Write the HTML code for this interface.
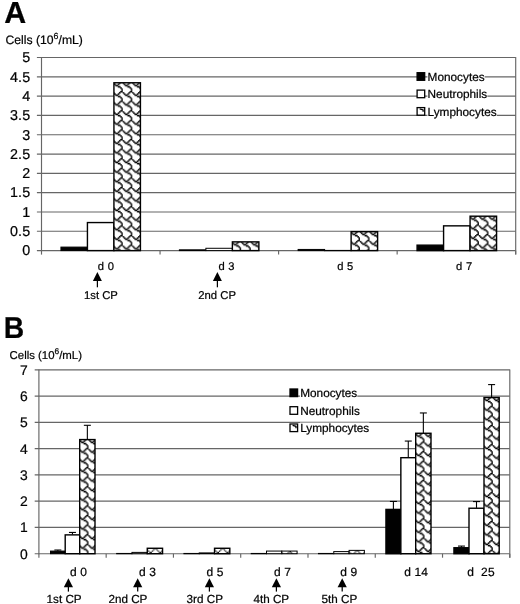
<!DOCTYPE html>
<html><head><meta charset="utf-8"><title>Chart</title>
<style>html,body{margin:0;padding:0;background:#fff;}body{width:520px;height:604px;overflow:hidden;}svg{display:block;}text{font-family:"Liberation Sans",sans-serif;fill:#000;text-rendering:geometricPrecision;stroke:#000;stroke-width:0.22px;}</style>
</head><body>
<svg width="520" height="604" viewBox="0 0 520 604">
<rect width="520" height="604" fill="#fff"/>
<g opacity="0.999">
<defs><pattern id="p0" patternUnits="userSpaceOnUse" x="113.13" y="81.41" width="9.6" height="9.6"><rect width="9.6" height="9.6" fill="#fff"/><rect x="7" y="-0.2" width="1.6" height="1.6" fill="#000"/><rect x="8.2" y="-0.2" width="1.6" height="1.6" fill="#000"/><rect x="-0.2" y="1" width="1.6" height="1.6" fill="#000"/><rect x="5.8" y="1" width="1.6" height="1.6" fill="#000"/><rect x="1" y="2.2" width="1.6" height="1.6" fill="#000"/><rect x="4.6" y="2.2" width="1.6" height="1.6" fill="#000"/><rect x="2.2" y="3.4" width="1.6" height="1.6" fill="#000"/><rect x="3.4" y="3.4" width="1.6" height="1.6" fill="#000"/><rect x="4.6" y="4.6" width="1.6" height="1.6" fill="#000"/><rect x="5.8" y="4.6" width="1.6" height="1.6" fill="#000"/><rect x="7" y="5.8" width="1.6" height="1.6" fill="#000"/><rect x="8.2" y="7" width="1.6" height="1.6" fill="#000"/><rect x="8.2" y="8.2" width="1.6" height="1.6" fill="#000"/></pattern><pattern id="p1" patternUnits="userSpaceOnUse" x="231.57" y="240.52" width="9.6" height="9.6"><rect width="9.6" height="9.6" fill="#fff"/><rect x="7" y="-0.2" width="1.6" height="1.6" fill="#000"/><rect x="8.2" y="-0.2" width="1.6" height="1.6" fill="#000"/><rect x="-0.2" y="1" width="1.6" height="1.6" fill="#000"/><rect x="5.8" y="1" width="1.6" height="1.6" fill="#000"/><rect x="1" y="2.2" width="1.6" height="1.6" fill="#000"/><rect x="4.6" y="2.2" width="1.6" height="1.6" fill="#000"/><rect x="2.2" y="3.4" width="1.6" height="1.6" fill="#000"/><rect x="3.4" y="3.4" width="1.6" height="1.6" fill="#000"/><rect x="4.6" y="4.6" width="1.6" height="1.6" fill="#000"/><rect x="5.8" y="4.6" width="1.6" height="1.6" fill="#000"/><rect x="7" y="5.8" width="1.6" height="1.6" fill="#000"/><rect x="8.2" y="7" width="1.6" height="1.6" fill="#000"/><rect x="8.2" y="8.2" width="1.6" height="1.6" fill="#000"/></pattern><pattern id="p2" patternUnits="userSpaceOnUse" x="350.32" y="230.29" width="9.6" height="9.6"><rect width="9.6" height="9.6" fill="#fff"/><rect x="7" y="-0.2" width="1.6" height="1.6" fill="#000"/><rect x="8.2" y="-0.2" width="1.6" height="1.6" fill="#000"/><rect x="-0.2" y="1" width="1.6" height="1.6" fill="#000"/><rect x="5.8" y="1" width="1.6" height="1.6" fill="#000"/><rect x="1" y="2.2" width="1.6" height="1.6" fill="#000"/><rect x="4.6" y="2.2" width="1.6" height="1.6" fill="#000"/><rect x="2.2" y="3.4" width="1.6" height="1.6" fill="#000"/><rect x="3.4" y="3.4" width="1.6" height="1.6" fill="#000"/><rect x="4.6" y="4.6" width="1.6" height="1.6" fill="#000"/><rect x="5.8" y="4.6" width="1.6" height="1.6" fill="#000"/><rect x="7" y="5.8" width="1.6" height="1.6" fill="#000"/><rect x="8.2" y="7" width="1.6" height="1.6" fill="#000"/><rect x="8.2" y="8.2" width="1.6" height="1.6" fill="#000"/></pattern><pattern id="p3" patternUnits="userSpaceOnUse" x="469.28" y="214.84" width="9.6" height="9.6"><rect width="9.6" height="9.6" fill="#fff"/><rect x="7" y="-0.2" width="1.6" height="1.6" fill="#000"/><rect x="8.2" y="-0.2" width="1.6" height="1.6" fill="#000"/><rect x="-0.2" y="1" width="1.6" height="1.6" fill="#000"/><rect x="5.8" y="1" width="1.6" height="1.6" fill="#000"/><rect x="1" y="2.2" width="1.6" height="1.6" fill="#000"/><rect x="4.6" y="2.2" width="1.6" height="1.6" fill="#000"/><rect x="2.2" y="3.4" width="1.6" height="1.6" fill="#000"/><rect x="3.4" y="3.4" width="1.6" height="1.6" fill="#000"/><rect x="4.6" y="4.6" width="1.6" height="1.6" fill="#000"/><rect x="5.8" y="4.6" width="1.6" height="1.6" fill="#000"/><rect x="7" y="5.8" width="1.6" height="1.6" fill="#000"/><rect x="8.2" y="7" width="1.6" height="1.6" fill="#000"/><rect x="8.2" y="8.2" width="1.6" height="1.6" fill="#000"/></pattern><pattern id="p4" patternUnits="userSpaceOnUse" x="78.9" y="438.22" width="9.6" height="9.6"><rect width="9.6" height="9.6" fill="#fff"/><rect x="7" y="-0.2" width="1.6" height="1.6" fill="#000"/><rect x="8.2" y="-0.2" width="1.6" height="1.6" fill="#000"/><rect x="-0.2" y="1" width="1.6" height="1.6" fill="#000"/><rect x="5.8" y="1" width="1.6" height="1.6" fill="#000"/><rect x="1" y="2.2" width="1.6" height="1.6" fill="#000"/><rect x="4.6" y="2.2" width="1.6" height="1.6" fill="#000"/><rect x="2.2" y="3.4" width="1.6" height="1.6" fill="#000"/><rect x="3.4" y="3.4" width="1.6" height="1.6" fill="#000"/><rect x="4.6" y="4.6" width="1.6" height="1.6" fill="#000"/><rect x="5.8" y="4.6" width="1.6" height="1.6" fill="#000"/><rect x="7" y="5.8" width="1.6" height="1.6" fill="#000"/><rect x="8.2" y="7" width="1.6" height="1.6" fill="#000"/><rect x="8.2" y="8.2" width="1.6" height="1.6" fill="#000"/></pattern><pattern id="p5" patternUnits="userSpaceOnUse" x="146.96" y="548.22" width="9.6" height="9.6"><rect width="9.6" height="9.6" fill="#fff"/><rect x="7.2" y="0" width="1.2" height="1.2" fill="#000"/><rect x="8.4" y="0" width="1.2" height="1.2" fill="#000"/><rect x="0" y="1.2" width="1.2" height="1.2" fill="#000"/><rect x="6" y="1.2" width="1.2" height="1.2" fill="#000"/><rect x="1.2" y="2.4" width="1.2" height="1.2" fill="#000"/><rect x="4.8" y="2.4" width="1.2" height="1.2" fill="#000"/><rect x="2.4" y="3.6" width="1.2" height="1.2" fill="#000"/><rect x="3.6" y="3.6" width="1.2" height="1.2" fill="#000"/><rect x="4.8" y="4.8" width="1.2" height="1.2" fill="#000"/><rect x="6" y="4.8" width="1.2" height="1.2" fill="#000"/><rect x="7.2" y="6" width="1.2" height="1.2" fill="#000"/><rect x="8.4" y="7.2" width="1.2" height="1.2" fill="#000"/><rect x="8.4" y="8.4" width="1.2" height="1.2" fill="#000"/></pattern><pattern id="p6" patternUnits="userSpaceOnUse" x="214.23" y="548.22" width="9.6" height="9.6"><rect width="9.6" height="9.6" fill="#fff"/><rect x="7.2" y="0" width="1.2" height="1.2" fill="#000"/><rect x="8.4" y="0" width="1.2" height="1.2" fill="#000"/><rect x="0" y="1.2" width="1.2" height="1.2" fill="#000"/><rect x="6" y="1.2" width="1.2" height="1.2" fill="#000"/><rect x="1.2" y="2.4" width="1.2" height="1.2" fill="#000"/><rect x="4.8" y="2.4" width="1.2" height="1.2" fill="#000"/><rect x="2.4" y="3.6" width="1.2" height="1.2" fill="#000"/><rect x="3.6" y="3.6" width="1.2" height="1.2" fill="#000"/><rect x="4.8" y="4.8" width="1.2" height="1.2" fill="#000"/><rect x="6" y="4.8" width="1.2" height="1.2" fill="#000"/><rect x="7.2" y="6" width="1.2" height="1.2" fill="#000"/><rect x="8.4" y="7.2" width="1.2" height="1.2" fill="#000"/><rect x="8.4" y="8.4" width="1.2" height="1.2" fill="#000"/></pattern><pattern id="p7" patternUnits="userSpaceOnUse" x="281.5" y="551.37" width="9.6" height="9.6"><rect width="9.6" height="9.6" fill="#fff"/><rect x="7.2" y="0" width="1.2" height="1.2" fill="#000"/><rect x="8.4" y="0" width="1.2" height="1.2" fill="#000"/><rect x="0" y="1.2" width="1.2" height="1.2" fill="#000"/><rect x="6" y="1.2" width="1.2" height="1.2" fill="#000"/><rect x="1.2" y="2.4" width="1.2" height="1.2" fill="#000"/><rect x="4.8" y="2.4" width="1.2" height="1.2" fill="#000"/><rect x="2.4" y="3.6" width="1.2" height="1.2" fill="#000"/><rect x="3.6" y="3.6" width="1.2" height="1.2" fill="#000"/><rect x="4.8" y="4.8" width="1.2" height="1.2" fill="#000"/><rect x="6" y="4.8" width="1.2" height="1.2" fill="#000"/><rect x="7.2" y="6" width="1.2" height="1.2" fill="#000"/><rect x="8.4" y="7.2" width="1.2" height="1.2" fill="#000"/><rect x="8.4" y="8.4" width="1.2" height="1.2" fill="#000"/></pattern><pattern id="p8" patternUnits="userSpaceOnUse" x="348.77" y="550.32" width="9.6" height="9.6"><rect width="9.6" height="9.6" fill="#fff"/><rect x="7.2" y="0" width="1.2" height="1.2" fill="#000"/><rect x="8.4" y="0" width="1.2" height="1.2" fill="#000"/><rect x="0" y="1.2" width="1.2" height="1.2" fill="#000"/><rect x="6" y="1.2" width="1.2" height="1.2" fill="#000"/><rect x="1.2" y="2.4" width="1.2" height="1.2" fill="#000"/><rect x="4.8" y="2.4" width="1.2" height="1.2" fill="#000"/><rect x="2.4" y="3.6" width="1.2" height="1.2" fill="#000"/><rect x="3.6" y="3.6" width="1.2" height="1.2" fill="#000"/><rect x="4.8" y="4.8" width="1.2" height="1.2" fill="#000"/><rect x="6" y="4.8" width="1.2" height="1.2" fill="#000"/><rect x="7.2" y="6" width="1.2" height="1.2" fill="#000"/><rect x="8.4" y="7.2" width="1.2" height="1.2" fill="#000"/><rect x="8.4" y="8.4" width="1.2" height="1.2" fill="#000"/></pattern><pattern id="p9" patternUnits="userSpaceOnUse" x="414.9" y="431.92" width="9.6" height="9.6"><rect width="9.6" height="9.6" fill="#fff"/><rect x="7" y="-0.2" width="1.6" height="1.6" fill="#000"/><rect x="8.2" y="-0.2" width="1.6" height="1.6" fill="#000"/><rect x="-0.2" y="1" width="1.6" height="1.6" fill="#000"/><rect x="5.8" y="1" width="1.6" height="1.6" fill="#000"/><rect x="1" y="2.2" width="1.6" height="1.6" fill="#000"/><rect x="4.6" y="2.2" width="1.6" height="1.6" fill="#000"/><rect x="2.2" y="3.4" width="1.6" height="1.6" fill="#000"/><rect x="3.4" y="3.4" width="1.6" height="1.6" fill="#000"/><rect x="4.6" y="4.6" width="1.6" height="1.6" fill="#000"/><rect x="5.8" y="4.6" width="1.6" height="1.6" fill="#000"/><rect x="7" y="5.8" width="1.6" height="1.6" fill="#000"/><rect x="8.2" y="7" width="1.6" height="1.6" fill="#000"/><rect x="8.2" y="8.2" width="1.6" height="1.6" fill="#000"/></pattern><pattern id="p10" patternUnits="userSpaceOnUse" x="483.2" y="396.21" width="9.6" height="9.6"><rect width="9.6" height="9.6" fill="#fff"/><rect x="7" y="-0.2" width="1.6" height="1.6" fill="#000"/><rect x="8.2" y="-0.2" width="1.6" height="1.6" fill="#000"/><rect x="-0.2" y="1" width="1.6" height="1.6" fill="#000"/><rect x="5.8" y="1" width="1.6" height="1.6" fill="#000"/><rect x="1" y="2.2" width="1.6" height="1.6" fill="#000"/><rect x="4.6" y="2.2" width="1.6" height="1.6" fill="#000"/><rect x="2.2" y="3.4" width="1.6" height="1.6" fill="#000"/><rect x="3.4" y="3.4" width="1.6" height="1.6" fill="#000"/><rect x="4.6" y="4.6" width="1.6" height="1.6" fill="#000"/><rect x="5.8" y="4.6" width="1.6" height="1.6" fill="#000"/><rect x="7" y="5.8" width="1.6" height="1.6" fill="#000"/><rect x="8.2" y="7" width="1.6" height="1.6" fill="#000"/><rect x="8.2" y="8.2" width="1.6" height="1.6" fill="#000"/></pattern></defs>
<text transform="translate(4.3,22.6)" font-size="30.4" font-weight="bold">A</text>
<text x="5.5" y="43.8" font-size="12.2" xml:space="preserve">Cells (10<tspan font-size="8.8" dy="-5.0">6</tspan><tspan dy="5.0">/mL)</tspan></text>
<line x1="36.9" y1="250.6" x2="515.7" y2="250.6" stroke="#666" stroke-width="1.15"/>
<text x="30.3" y="255.4" font-size="14.3" text-anchor="end" letter-spacing="0.15" xml:space="preserve">0</text>
<line x1="36.9" y1="231.29" x2="515.7" y2="231.29" stroke="#666" stroke-width="1.15"/>
<text x="30.3" y="236.09" font-size="14.3" text-anchor="end" letter-spacing="0.15" xml:space="preserve">0.5</text>
<line x1="36.9" y1="211.98" x2="515.7" y2="211.98" stroke="#666" stroke-width="1.15"/>
<text x="30.3" y="216.78" font-size="14.3" text-anchor="end" letter-spacing="0.15" xml:space="preserve">1</text>
<line x1="36.9" y1="192.67" x2="515.7" y2="192.67" stroke="#666" stroke-width="1.15"/>
<text x="30.3" y="197.47" font-size="14.3" text-anchor="end" letter-spacing="0.15" xml:space="preserve">1.5</text>
<line x1="36.9" y1="173.36" x2="515.7" y2="173.36" stroke="#666" stroke-width="1.15"/>
<text x="30.3" y="178.16" font-size="14.3" text-anchor="end" letter-spacing="0.15" xml:space="preserve">2</text>
<line x1="36.9" y1="154.05" x2="515.7" y2="154.05" stroke="#666" stroke-width="1.15"/>
<text x="30.3" y="158.85" font-size="14.3" text-anchor="end" letter-spacing="0.15" xml:space="preserve">2.5</text>
<line x1="36.9" y1="134.74" x2="515.7" y2="134.74" stroke="#666" stroke-width="1.15"/>
<text x="30.3" y="139.54" font-size="14.3" text-anchor="end" letter-spacing="0.15" xml:space="preserve">3</text>
<line x1="36.9" y1="115.43" x2="515.7" y2="115.43" stroke="#666" stroke-width="1.15"/>
<text x="30.3" y="120.23" font-size="14.3" text-anchor="end" letter-spacing="0.15" xml:space="preserve">3.5</text>
<line x1="36.9" y1="96.12" x2="515.7" y2="96.12" stroke="#666" stroke-width="1.15"/>
<text x="30.3" y="100.92" font-size="14.3" text-anchor="end" letter-spacing="0.15" xml:space="preserve">4</text>
<line x1="36.9" y1="76.81" x2="515.7" y2="76.81" stroke="#666" stroke-width="1.15"/>
<text x="30.3" y="81.61" font-size="14.3" text-anchor="end" letter-spacing="0.15" xml:space="preserve">4.5</text>
<line x1="36.9" y1="57.5" x2="515.7" y2="57.5" stroke="#666" stroke-width="1.15"/>
<text x="30.3" y="62.3" font-size="14.3" text-anchor="end" letter-spacing="0.15" xml:space="preserve">5</text>
<line x1="41.5" y1="57" x2="41.5" y2="251.1" stroke="#666" stroke-width="1.15"/>
<line x1="515.7" y1="57" x2="515.7" y2="254.6" stroke="#666" stroke-width="1.15"/>
<line x1="41.5" y1="250.6" x2="41.5" y2="254.6" stroke="#666" stroke-width="1.15"/>
<line x1="160.05" y1="250.6" x2="160.05" y2="254.6" stroke="#666" stroke-width="1.15"/>
<line x1="278.6" y1="250.6" x2="278.6" y2="254.6" stroke="#666" stroke-width="1.15"/>
<line x1="397.15" y1="250.6" x2="397.15" y2="254.6" stroke="#666" stroke-width="1.15"/>
<line x1="515.7" y1="250.6" x2="515.7" y2="254.6" stroke="#666" stroke-width="1.15"/>
<rect x="60.93" y="247.09" width="26.5" height="3.51" fill="#000" stroke="#000" stroke-width="1"/>
<rect x="87.43" y="222.56" width="26.5" height="28.04" fill="#fff" stroke="#000" stroke-width="1.4"/>
<rect x="113.93" y="82.76" width="26.5" height="167.84" fill="url(#p0)" stroke="#000" stroke-width="1.4"/>
<rect x="179.38" y="249.83" width="26.5" height="0.77" fill="#000" stroke="#000" stroke-width="1"/>
<rect x="205.88" y="248.28" width="26.5" height="2.32" fill="#fff" stroke="#000" stroke-width="1"/>
<rect x="232.38" y="241.87" width="26.5" height="8.73" fill="url(#p1)" stroke="#000" stroke-width="1.4"/>
<rect x="298.12" y="249.44" width="26.5" height="1.16" fill="#000" stroke="#000" stroke-width="1"/>
<rect x="324.62" y="250.41" width="26.5" height="0.3" fill="#fff" stroke="#000" stroke-width="1"/>
<rect x="351.12" y="231.64" width="26.5" height="18.96" fill="url(#p2)" stroke="#000" stroke-width="1.4"/>
<rect x="417.08" y="245.16" width="26.5" height="5.44" fill="#000" stroke="#000" stroke-width="1.4"/>
<rect x="443.58" y="225.85" width="26.5" height="24.75" fill="#fff" stroke="#000" stroke-width="1.4"/>
<rect x="470.08" y="216.19" width="26.5" height="34.41" fill="url(#p3)" stroke="#000" stroke-width="1.4"/>
<text x="97.8" y="269.5" font-size="11.2" text-anchor="start" letter-spacing="0.3" xml:space="preserve">d 0</text>
<text x="218.4" y="269.5" font-size="11.2" text-anchor="start" letter-spacing="0.3" xml:space="preserve">d 3</text>
<text x="337.2" y="269.5" font-size="11.2" text-anchor="start" letter-spacing="0.3" xml:space="preserve">d 5</text>
<text x="456" y="269.5" font-size="11.2" text-anchor="start" letter-spacing="0.3" xml:space="preserve">d 7</text>
<path d="M97.4 272 L92.9 281 L101.9 281 Z" fill="#000"/>
<line x1="97.4" y1="280.5" x2="97.4" y2="287.3" stroke="#000" stroke-width="1.25"/>
<path d="M217.4 272 L212.9 281 L221.9 281 Z" fill="#000"/>
<line x1="217.4" y1="280.5" x2="217.4" y2="287.3" stroke="#000" stroke-width="1.25"/>
<text x="84" y="298.6" font-size="11.3" text-anchor="start" xml:space="preserve">1st CP</text>
<text x="198.3" y="298.6" font-size="11.3" text-anchor="start" xml:space="preserve">2nd CP</text>
<rect x="417.1" y="72.7" width="7.6" height="7.6" fill="#000" stroke="#000" stroke-width="1.3"/>
<rect x="417.1" y="90.1" width="7.6" height="7.6" fill="#fff" stroke="#000" stroke-width="1.3"/>
<rect x="417.1" y="107.6" width="7.6" height="7.6" fill="#fff" stroke="#000" stroke-width="1.3"/>
<path d="M419.7 108.9 l3.4 1 v1.9" stroke="#000" stroke-width="1.3" fill="none"/>
<rect x="427.4" y="71.3" width="57.26" height="11.7" fill="#fff"/>
<text x="427.6" y="80.7" font-size="11.8" text-anchor="start" xml:space="preserve">Monocytes</text>
<rect x="427.4" y="88.7" width="59.89" height="11.7" fill="#fff"/>
<text x="427.6" y="98.1" font-size="11.8" text-anchor="start" xml:space="preserve">Neutrophils</text>
<rect x="427.4" y="106.2" width="69.28" height="11.7" fill="#fff"/>
<text x="427.6" y="115.6" font-size="11.8" text-anchor="start" xml:space="preserve">Lymphocytes</text>
<text transform="translate(3.7,338.3) scale(0.935,1)" font-size="30.3" font-weight="bold">B</text>
<text x="9.6" y="359.3" font-size="11.4" xml:space="preserve">Cells (10<tspan font-size="8.3" dy="-4.9">6</tspan><tspan dy="4.9">/mL)</tspan></text>
<line x1="34.7" y1="553.7" x2="509.8" y2="553.7" stroke="#666" stroke-width="1.15"/>
<text x="27.7" y="558.7" font-size="13.9" text-anchor="end" xml:space="preserve">0</text>
<line x1="34.7" y1="527.44" x2="509.8" y2="527.44" stroke="#666" stroke-width="1.15"/>
<text x="27.7" y="532.44" font-size="13.9" text-anchor="end" xml:space="preserve">1</text>
<line x1="34.7" y1="501.19" x2="509.8" y2="501.19" stroke="#666" stroke-width="1.15"/>
<text x="27.7" y="506.19" font-size="13.9" text-anchor="end" xml:space="preserve">2</text>
<line x1="34.7" y1="474.93" x2="509.8" y2="474.93" stroke="#666" stroke-width="1.15"/>
<text x="27.7" y="479.93" font-size="13.9" text-anchor="end" xml:space="preserve">3</text>
<line x1="34.7" y1="448.67" x2="509.8" y2="448.67" stroke="#666" stroke-width="1.15"/>
<text x="27.7" y="453.67" font-size="13.9" text-anchor="end" xml:space="preserve">4</text>
<line x1="34.7" y1="422.41" x2="509.8" y2="422.41" stroke="#666" stroke-width="1.15"/>
<text x="27.7" y="427.41" font-size="13.9" text-anchor="end" xml:space="preserve">5</text>
<line x1="34.7" y1="396.16" x2="509.8" y2="396.16" stroke="#666" stroke-width="1.15"/>
<text x="27.7" y="401.16" font-size="13.9" text-anchor="end" xml:space="preserve">6</text>
<line x1="34.7" y1="369.9" x2="509.8" y2="369.9" stroke="#666" stroke-width="1.15"/>
<text x="27.7" y="374.9" font-size="13.9" text-anchor="end" xml:space="preserve">7</text>
<line x1="38.9" y1="369.4" x2="38.9" y2="554.2" stroke="#666" stroke-width="1.15"/>
<line x1="509.8" y1="369.4" x2="509.8" y2="557.7" stroke="#666" stroke-width="1.15"/>
<line x1="38.9" y1="553.7" x2="38.9" y2="557.7" stroke="#666" stroke-width="1.15"/>
<line x1="106.17" y1="553.7" x2="106.17" y2="557.7" stroke="#666" stroke-width="1.15"/>
<line x1="173.44" y1="553.7" x2="173.44" y2="557.7" stroke="#666" stroke-width="1.15"/>
<line x1="240.71" y1="553.7" x2="240.71" y2="557.7" stroke="#666" stroke-width="1.15"/>
<line x1="307.99" y1="553.7" x2="307.99" y2="557.7" stroke="#666" stroke-width="1.15"/>
<line x1="375.26" y1="553.7" x2="375.26" y2="557.7" stroke="#666" stroke-width="1.15"/>
<line x1="442.53" y1="553.7" x2="442.53" y2="557.7" stroke="#666" stroke-width="1.15"/>
<line x1="509.8" y1="553.7" x2="509.8" y2="557.7" stroke="#666" stroke-width="1.15"/>
<line x1="57.85" y1="550.02" x2="57.85" y2="551.07" stroke="#000" stroke-width="1.1"/>
<line x1="54.35" y1="550.02" x2="61.35" y2="550.02" stroke="#000" stroke-width="1.1"/>
<rect x="50.5" y="551.07" width="14.7" height="2.63" fill="#000" stroke="#000" stroke-width="1"/>
<line x1="72.45" y1="532.43" x2="72.45" y2="534.53" stroke="#000" stroke-width="1.1"/>
<line x1="68.95" y1="532.43" x2="75.95" y2="532.43" stroke="#000" stroke-width="1.1"/>
<rect x="65.2" y="534.88" width="14.5" height="18.82" fill="#fff" stroke="#000" stroke-width="1.4"/>
<line x1="87.35" y1="425.3" x2="87.35" y2="439.22" stroke="#000" stroke-width="1.1"/>
<line x1="83.85" y1="425.3" x2="90.85" y2="425.3" stroke="#000" stroke-width="1.1"/>
<rect x="79.7" y="439.57" width="15.3" height="114.13" fill="url(#p4)" stroke="#000" stroke-width="1.4"/>
<rect x="116.66" y="553.44" width="15.3" height="0.3" fill="#000" stroke="#000" stroke-width="1"/>
<rect x="131.96" y="552.39" width="15.3" height="1.31" fill="#fff" stroke="#000" stroke-width="1"/>
<rect x="147.26" y="548.27" width="15.3" height="5.43" fill="url(#p5)" stroke="#000" stroke-width="1.4"/>
<rect x="183.93" y="553.44" width="15.3" height="0.3" fill="#000" stroke="#000" stroke-width="1"/>
<rect x="199.23" y="552.91" width="15.3" height="0.79" fill="#fff" stroke="#000" stroke-width="1"/>
<rect x="214.53" y="548.27" width="15.3" height="5.43" fill="url(#p6)" stroke="#000" stroke-width="1.4"/>
<rect x="251.2" y="553.44" width="15.3" height="0.3" fill="#000" stroke="#000" stroke-width="1"/>
<rect x="266.5" y="551.07" width="15.3" height="2.63" fill="#fff" stroke="#000" stroke-width="1"/>
<rect x="281.8" y="551.07" width="15.3" height="2.63" fill="url(#p7)" stroke="#000" stroke-width="1"/>
<rect x="318.47" y="553.44" width="15.3" height="0.3" fill="#000" stroke="#000" stroke-width="1"/>
<rect x="333.77" y="551.6" width="15.3" height="2.1" fill="#fff" stroke="#000" stroke-width="1"/>
<rect x="349.07" y="550.37" width="15.3" height="3.33" fill="url(#p8)" stroke="#000" stroke-width="1"/>
<line x1="393.4" y1="501.45" x2="393.4" y2="509.06" stroke="#000" stroke-width="1.1"/>
<line x1="389.9" y1="501.45" x2="396.9" y2="501.45" stroke="#000" stroke-width="1.1"/>
<rect x="385.95" y="509.41" width="14.9" height="44.29" fill="#000" stroke="#000" stroke-width="1.4"/>
<line x1="408.27" y1="441.06" x2="408.27" y2="457.34" stroke="#000" stroke-width="1.1"/>
<line x1="404.77" y1="441.06" x2="411.77" y2="441.06" stroke="#000" stroke-width="1.1"/>
<rect x="400.85" y="457.69" width="14.85" height="96.01" fill="#fff" stroke="#000" stroke-width="1.4"/>
<line x1="423.35" y1="412.96" x2="423.35" y2="432.92" stroke="#000" stroke-width="1.1"/>
<line x1="419.85" y1="412.96" x2="426.85" y2="412.96" stroke="#000" stroke-width="1.1"/>
<rect x="415.7" y="433.27" width="15.3" height="120.43" fill="url(#p9)" stroke="#000" stroke-width="1.4"/>
<line x1="461.48" y1="546.09" x2="461.48" y2="547.4" stroke="#000" stroke-width="1.1"/>
<line x1="457.98" y1="546.09" x2="464.98" y2="546.09" stroke="#000" stroke-width="1.1"/>
<rect x="453.95" y="547.75" width="15.05" height="5.95" fill="#000" stroke="#000" stroke-width="1.4"/>
<line x1="476.5" y1="501.58" x2="476.5" y2="507.88" stroke="#000" stroke-width="1.1"/>
<line x1="473" y1="501.58" x2="480" y2="501.58" stroke="#000" stroke-width="1.1"/>
<rect x="469" y="508.23" width="15" height="45.47" fill="#fff" stroke="#000" stroke-width="1.4"/>
<line x1="491.6" y1="384.6" x2="491.6" y2="397.21" stroke="#000" stroke-width="1.1"/>
<line x1="488.1" y1="384.6" x2="495.1" y2="384.6" stroke="#000" stroke-width="1.1"/>
<rect x="484" y="397.56" width="15.2" height="156.14" fill="url(#p10)" stroke="#000" stroke-width="1.4"/>
<text x="70" y="575.6" font-size="12" text-anchor="start" letter-spacing="0.15" xml:space="preserve">d 0</text>
<text x="139" y="575.6" font-size="12" text-anchor="start" letter-spacing="0.15" xml:space="preserve">d 3</text>
<text x="206.5" y="575.6" font-size="12" text-anchor="start" letter-spacing="0.15" xml:space="preserve">d 5</text>
<text x="274" y="575.6" font-size="12" text-anchor="start" letter-spacing="0.15" xml:space="preserve">d 7</text>
<text x="340.3" y="575.6" font-size="12" text-anchor="start" letter-spacing="0.15" xml:space="preserve">d 9</text>
<text x="404.2" y="575.6" font-size="12" text-anchor="start" letter-spacing="0.15" xml:space="preserve">d 14</text>
<text x="467.3" y="575.6" font-size="12" text-anchor="start" letter-spacing="0.15" xml:space="preserve">d  25</text>
<path d="M68.4 578.3 L63.8 587.2 L73 587.2 Z" fill="#000"/>
<line x1="68.4" y1="586.7" x2="68.4" y2="591.6" stroke="#000" stroke-width="1.25"/>
<path d="M137.7 578.3 L133.1 587.2 L142.3 587.2 Z" fill="#000"/>
<line x1="137.7" y1="586.7" x2="137.7" y2="591.6" stroke="#000" stroke-width="1.25"/>
<path d="M209.4 578.3 L204.8 587.2 L214 587.2 Z" fill="#000"/>
<line x1="209.4" y1="586.7" x2="209.4" y2="591.6" stroke="#000" stroke-width="1.25"/>
<path d="M276.4 578.3 L271.8 587.2 L281 587.2 Z" fill="#000"/>
<line x1="276.4" y1="586.7" x2="276.4" y2="591.6" stroke="#000" stroke-width="1.25"/>
<path d="M342.2 578.3 L337.6 587.2 L346.8 587.2 Z" fill="#000"/>
<line x1="342.2" y1="586.7" x2="342.2" y2="591.6" stroke="#000" stroke-width="1.25"/>
<text x="46.6" y="602.9" font-size="11.7" text-anchor="start" xml:space="preserve">1st CP</text>
<text x="108.4" y="602.9" font-size="11.7" text-anchor="start" xml:space="preserve">2nd CP</text>
<text x="186.6" y="602.9" font-size="11.7" text-anchor="start" xml:space="preserve">3rd CP</text>
<text x="253.4" y="602.9" font-size="11.7" text-anchor="start" xml:space="preserve">4th CP</text>
<text x="321.6" y="602.9" font-size="11.7" text-anchor="start" xml:space="preserve">5th CP</text>
<rect x="290" y="389" width="7.6" height="7.6" fill="#000" stroke="#000" stroke-width="1.3"/>
<rect x="290" y="406.7" width="7.6" height="7.6" fill="#fff" stroke="#000" stroke-width="1.3"/>
<rect x="290" y="424" width="7.6" height="7.6" fill="#fff" stroke="#000" stroke-width="1.3"/>
<path d="M292.6 425.3 l3.4 1 v1.9" stroke="#000" stroke-width="1.3" fill="none"/>
<rect x="300" y="387.6" width="57.26" height="11.7" fill="#fff"/>
<text x="300.2" y="397" font-size="11.8" text-anchor="start" xml:space="preserve">Monocytes</text>
<rect x="300" y="405.3" width="59.89" height="11.7" fill="#fff"/>
<text x="300.2" y="414.7" font-size="11.8" text-anchor="start" xml:space="preserve">Neutrophils</text>
<rect x="300" y="422.6" width="69.28" height="11.7" fill="#fff"/>
<text x="300.2" y="432" font-size="11.8" text-anchor="start" xml:space="preserve">Lymphocytes</text>
</g>
</svg>
</body></html>
